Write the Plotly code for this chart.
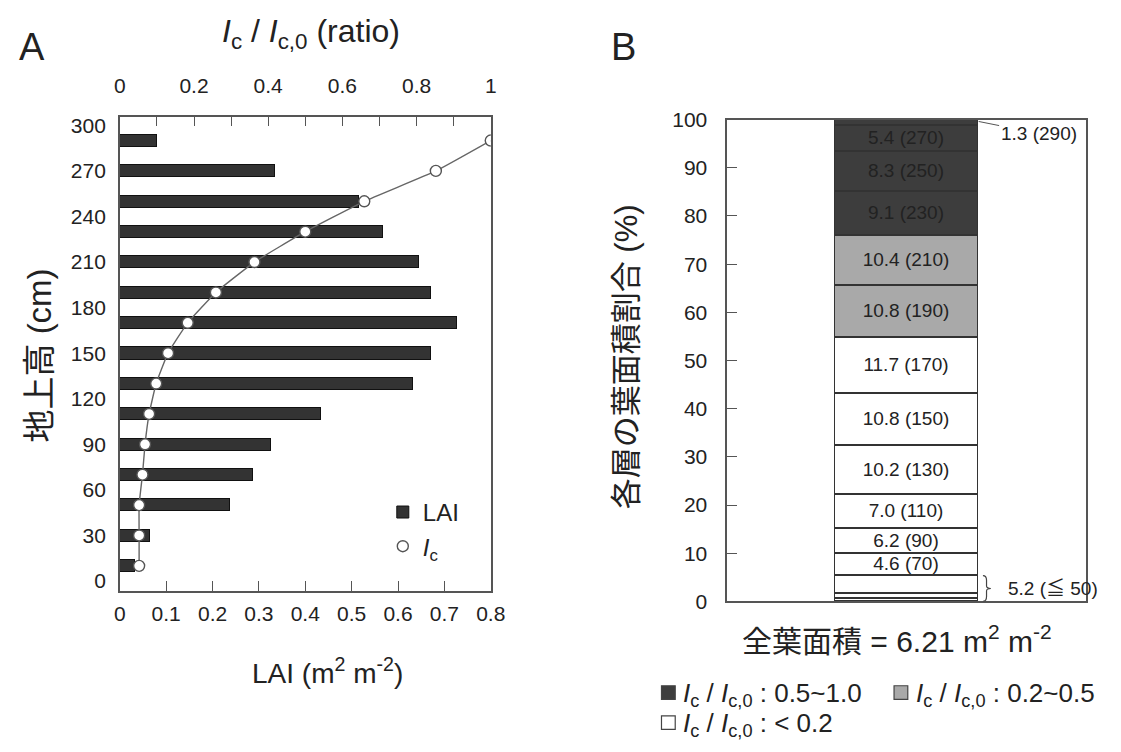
import plotly.graph_objects as go

# ---------------- data ----------------
heights = [10, 30, 50, 70, 90, 110, 130, 150, 170, 190, 210, 230, 250, 270, 290]  # cm
lai = [0.032, 0.065, 0.237, 0.286, 0.325, 0.434, 0.631, 0.671, 0.726, 0.671,
       0.645, 0.567, 0.516, 0.335, 0.080]
ic_ratio = [0.052, 0.052, 0.052, 0.061, 0.068, 0.079, 0.098, 0.130, 0.183, 0.259,
            0.363, 0.500, 0.659, 0.852, 1.000]
label_pct = [None, None, None, 4.6, 6.2, 7.0, 10.2, 10.8, 11.7, 10.8, 10.4, 9.1, 8.3, 5.4, 1.3]
low_group_pct = 5.2          # layers <= 50 cm
total_lai_text = "6.21"
lai_ticks = [0, 0.1, 0.2, 0.3, 0.4, 0.5, 0.6, 0.7, 0.8]
ratio_ticks = [0, 0.1, 0.2, 0.3, 0.4, 0.5, 0.6, 0.7, 0.8, 0.9, 1.0]
height_ticks = [0, 30, 60, 90, 120, 150, 180, 210, 240, 270, 300]
pct_ticks = [0, 10, 20, 30, 40, 50, 60, 70, 80, 90, 100]
class_labels = ["0.5~1.0", "0.2~0.5", "< 0.2"]

FONT = "Liberation Sans, Arial, Noto Sans CJK JP, sans-serif"
AX = "#555555"
DARK, GRAY, WHITE = "#3d3d3d", "#a9a9a9", "#ffffff"
W, H = 1121, 752


def px(x):
    return x / W


def py(y):
    return 1 - y / H


total = sum(lai)
pct = [v / total * 100 for v in lai]


def group_color(r):
    if r >= 0.5:
        return DARK
    if r >= 0.2:
        return GRAY
    return WHITE


fig = go.Figure()

# ---------- Panel A ----------
fig.add_trace(go.Bar(
    x=lai, y=heights, orientation="h", width=8,
    marker=dict(color="#333333", line=dict(color="#111111", width=1)),
    xaxis="x", yaxis="y", name="LAI", legend="legend", legendrank=1))
fig.add_trace(go.Scatter(
    x=ic_ratio, y=heights, mode="lines", xaxis="x2", yaxis="y",
    line=dict(color="#666666", width=1.4, shape="spline", smoothing=0.4),
    showlegend=False, hoverinfo="skip"))
fig.add_trace(go.Scatter(
    x=ic_ratio, y=heights, mode="markers", xaxis="x2", yaxis="y",
    marker=dict(size=11, color="white", line=dict(color="#555555", width=1.4)),
    name="<i>I</i><sub>c</sub>", legend="legend", legendrank=2))

# ---------- Panel B ----------
for h, p, r, lp in zip(heights, pct, ic_ratio, label_pct):
    txt = f"{lp:.1f} ({h})" if (lp is not None and h != 290) else ""
    fig.add_trace(go.Bar(
        x=[0.5], y=[p], width=0.4, xaxis="x3", yaxis="y3",
        marker=dict(color=group_color(r), line=dict(color="#333333", width=1.5)),
        text=[txt], textposition="inside", insidetextanchor="middle",
        constraintext="none", textfont=dict(size=19, color="#222222", family=FONT),
        showlegend=False, hoverinfo="y"))

axis_common = dict(showgrid=False, zeroline=False, showline=True, linecolor=AX,
                   linewidth=1.5, tickcolor=AX, tickfont=dict(size=21, color="#222", family=FONT))

fig.update_layout(
    width=W, height=H, margin=dict(l=0, r=0, t=0, b=0),
    paper_bgcolor="white", plot_bgcolor="rgba(0,0,0,0)",
    barmode="stack", bargap=0,
    font=dict(family=FONT, color="#222"),
    xaxis=dict(domain=[px(116), px(494)], range=[0, 0.8], anchor="y",
               tickvals=lai_ticks, ticktext=[f"{v:g}" for v in lai_ticks],
               ticks="inside", ticklen=10, ticklabelstandoff=3, **axis_common),
    xaxis2=dict(overlaying="x", side="top", anchor="y", range=[0, 1],
                tickvals=ratio_ticks,
                ticktext=[f"{v:g}" if round(v * 10) % 2 == 0 else "" for v in ratio_ticks],
                ticks="inside", ticklen=10, ticklabelstandoff=14, **axis_common),
    yaxis=dict(domain=[py(597), py(108)], range=[-6.4, 305.7], anchor="x",
               tickvals=height_ticks, ticks="", mirror=True, ticklabelstandoff=8,
               **axis_common),
    xaxis3=dict(domain=[px(735), px(1101)], range=[0, 1], anchor="y3",
                showticklabels=False, ticks="", mirror=True, **axis_common),
    yaxis3=dict(domain=[py(608), py(111)], range=[0, 100], anchor="x3",
                tickvals=pct_ticks, ticks="inside", ticklen=10, mirror=True,
                ticklabelstandoff=14, **axis_common),
    legend=dict(x=px(384), y=py(493), xanchor="left", yanchor="top",
                traceorder="normal",
                font=dict(size=24, family=FONT, color="#222"),
                bgcolor="rgba(0,0,0,0)", itemwidth=30, tracegroupgap=0),
)

ann = []


def add_text(text, x, y, size, xanchor="center", yanchor="middle", angle=0):
    ann.append(dict(text=text, x=px(x), y=py(y), xref="paper", yref="paper",
                    showarrow=False, xanchor=xanchor, yanchor=yanchor, textangle=angle,
                    font=dict(size=size, family=FONT, color="#222")))


add_text("A", 11, 36, 38, xanchor="left")
add_text("B", 615, 36, 38, xanchor="left")
add_text("<i>I</i><sub>c</sub> / <i>I</i><sub>c,0</sub> (ratio)", 311, 22, 32)
add_text("LAI (m<sup>2</sup> m<sup>-2</sup>)", 328, 680, 28)
add_text("地上高 (cm)", 34, 354, 33, angle=-90)
add_text("各層の葉面積割合 (%)", 632, 356, 31, angle=-90)
add_text("全葉面積 = " + total_lai_text + " m<sup>2</sup> m<sup>-2</sup>", 908, 647, 30)

# callouts in panel B tied to data
ann.append(dict(text=f"{label_pct[-1]:.1f} (290)", x=0.7, y=100 - pct[-1] * 0.3,
                xref="x3", yref="y3", showarrow=True, arrowhead=0, arrowwidth=1,
                arrowcolor="#555", ax=60, ay=12, xanchor="center",
                font=dict(size=19, family=FONT, color="#222")))
low_top = sum(pct[:3])
ann.append(dict(text=f"{low_group_pct:.1f} (≦ 50)", x=0.775, y=low_top / 2,
                xref="x3", yref="y3", showarrow=False, xanchor="left",
                font=dict(size=19, family=FONT, color="#222")))

# bottom legend for panel B
legend_pos = [(668, 702), (905, 702), (668, 733)]
shapes = []
for col, (x0, yc), rng in zip([DARK, GRAY, WHITE], legend_pos, class_labels):
    shapes.append(dict(type="rect", xref="paper", yref="paper",
                       x0=px(x0), x1=px(x0 + 14), y0=py(yc + 7), y1=py(yc - 7),
                       fillcolor=col, line=dict(color="#444", width=1.2)))
    ann.append(dict(text=f"<i>I</i><sub>c</sub> / <i>I</i><sub>c,0</sub> : {rng}",
                    x=px(x0 + 20), y=py(yc + 2), xref="paper", yref="paper", showarrow=False,
                    xanchor="left", yanchor="middle",
                    font=dict(size=26, family=FONT, color="#222")))

# brace for <=50 cm layers
bx = 0.712
shapes.append(dict(type="path", xref="x3", yref="y3",
                   path=(f"M {bx},{low_top} Q {bx+0.01},{low_top} {bx+0.01},{low_top-1} "
                         f"L {bx+0.01},{low_top/2+0.5} Q {bx+0.01},{low_top/2} {bx+0.022},{low_top/2} "
                         f"Q {bx+0.01},{low_top/2} {bx+0.01},{low_top/2-0.5} "
                         f"L {bx+0.01},1 Q {bx+0.01},0 {bx},0"),
                   line=dict(color="#444", width=1.2)))

fig.update_layout(annotations=ann, shapes=shapes)
fig.write_html("out.html")
